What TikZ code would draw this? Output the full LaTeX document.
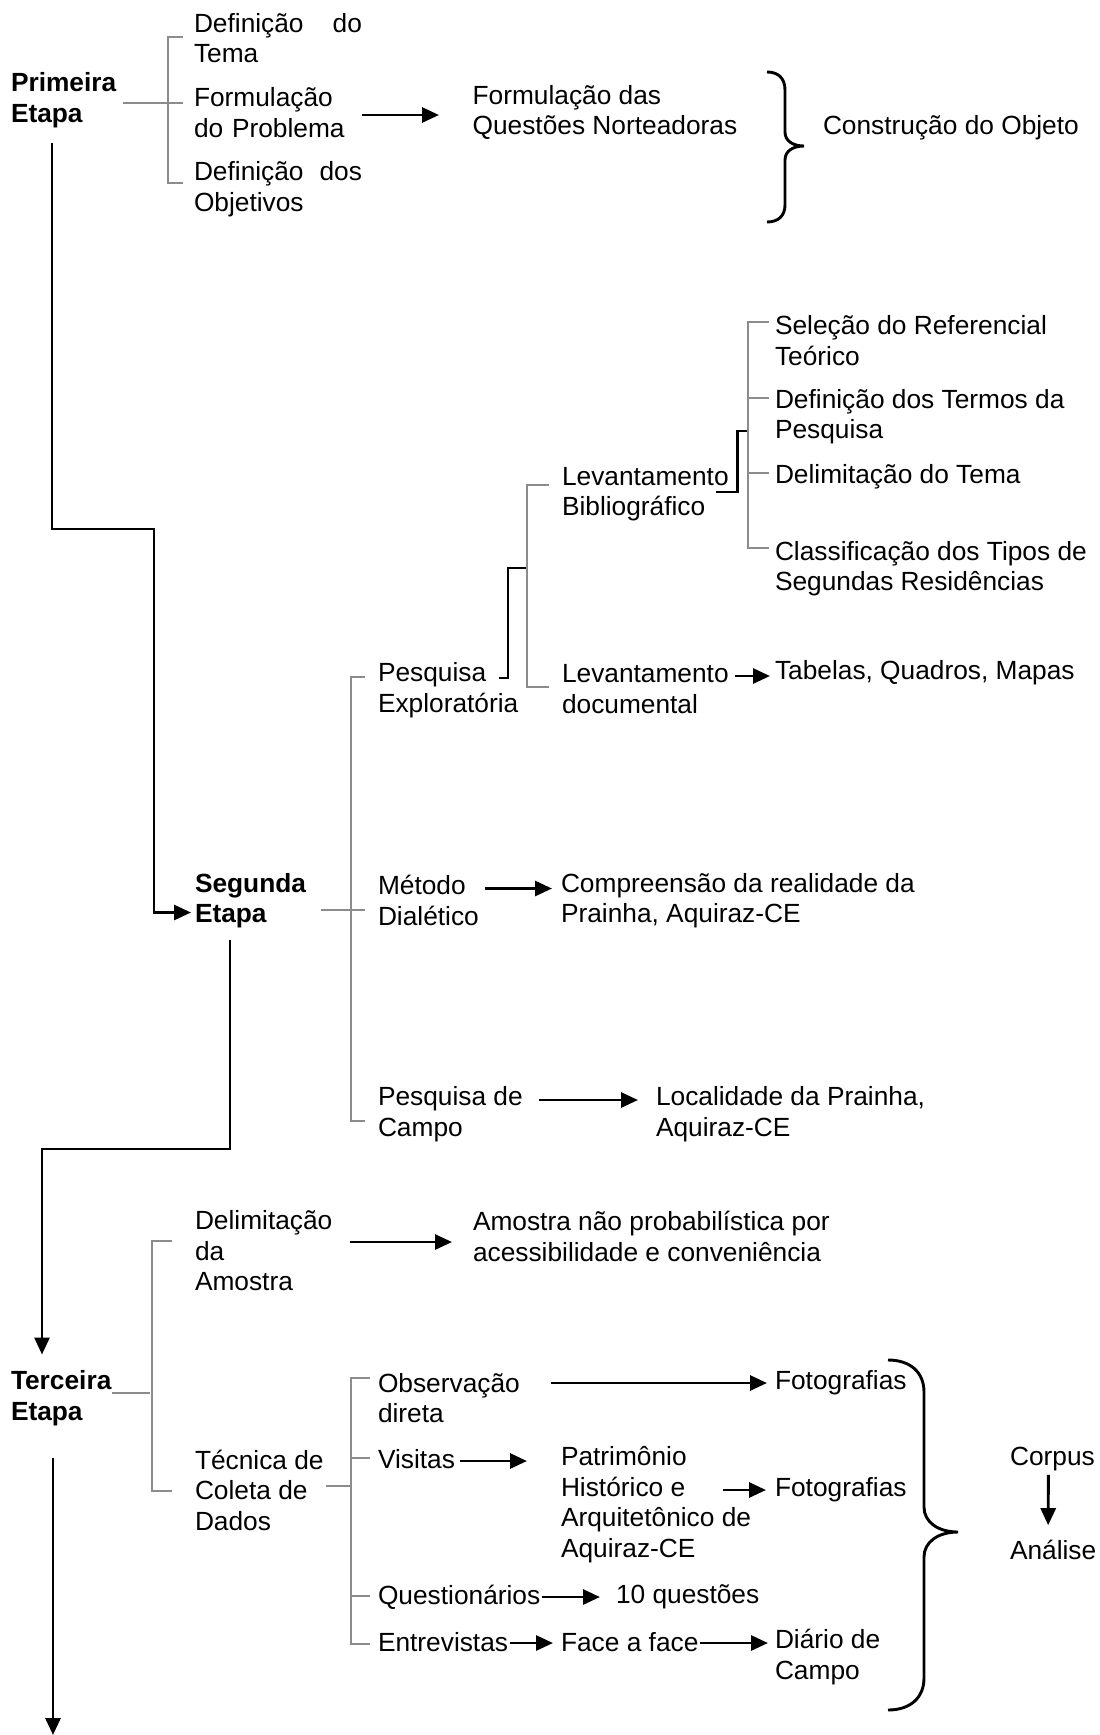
\documentclass[tikz,border=0pt]{standalone}
\usepackage{fontspec}
\setmainfont{Liberation Sans}
\usetikzlibrary{arrows.meta,calc}

\definecolor{linegray}{RGB}{140,140,140}

\begin{document}
\begin{tikzpicture}[x=0.5pt, y=-0.5pt,
  every node/.style={font=\fontsize{13.15pt}{15.25pt}\selectfont, inner sep=0pt, outer sep=0pt, anchor=west, align=left},
  stage/.style={font=\fontsize{13.15pt}{15.25pt}\selectfont\bfseries},
  gline/.style={draw=linegray, line width=1pt},
  bline/.style={draw=black, line width=1.45pt},
  arr/.style={bline, -{Triangle[length=8.5pt, width=7.5pt]}}]
  \useasboundingbox (0,0) rectangle (1099,1735);

  % Primeira Etapa
  \node[stage] (prim) at (11,100) {Primeira\\Etapa};
  \node[text width=84pt] (def1) at (194,38) {Definição \hfill do\\Tema};
  \node[text width=84pt] (form) at (194,112.5) {Formulação\\do Problema};
  \node[text width=84pt] (def2) at (194,189) {Definição \hfill dos\\Objetivos};
  \node (quest) at (472.6,112.5) {Formulação das\\Questões Norteadoras};
  \node (constr) at (823,128) {Construção do Objeto};

  \draw[gline] ($(prim.east)+(7,3)$) -- ($(form.west)+(-11,-9.5)$);
  \draw[gline] ($(def1.west)+(-11,-1)$) -- ++(-15,0) |- ($(def2.west)+(-11,-6)$);
  \draw[arr] ($(form.east)+(0,2.5)$) -- ($(quest.west)+(-33.6,2.5)$);

  % chave
  \draw[bline] (767,72) .. controls (778,72) and (785,78) .. (785,90) -- (785,132)
    .. controls (785,141) and (793,146) .. (804,146)
    .. controls (793,146) and (785,151) .. (785,160) -- (785,205)
    .. controls (785,216) and (778,222) .. (767,222);

  % Segunda Etapa
  \node[stage] (seg) at (195,900.5) {Segunda\\Etapa};
  \node (pesq) at (378,690) {Pesquisa\\Exploratória};
  \node (met) at (378,900.5) {Método\\Dialético};
  \node (camp) at (378,1114) {Pesquisa de\\Campo};
  \node (comp) at (561,900.5) {Compreensão da realidade da\\Prainha, Aquiraz-CE};
  \node (local) at (656,1114) {Localidade da Prainha,\\Aquiraz-CE};

  \coordinate (s1) at (52,143);
  \draw[arr] (s1) |- ++(102,386) |- ($(seg.west)+(-4,12)$);

  \draw[gline] ($(seg.east)+(15,9.5)$) -- ($(met.west)+(-13,9.5)$);
  \draw[gline] ($(pesq.west)+(-13,-13)$) -- ++(-14,0) |- ($(camp.west)+(-13,7)$);
  \draw[arr] ($(met.east)+(6,-12)$) -- ($(comp.west)+(-9,-12)$);
  \draw[arr] ($(camp.east)+(16,-14)$) -- ($(local.west)+(-18,-14)$);

  % Pesquisa Exploratoria
  \node (levbib) at (562,494) {Levantamento\\Bibliográfico};
  \node (levdoc) at (562,689) {Levantamento\\documental};
  \node (tab) at (775,673) {Tabelas, Quadros, Mapas};
  \node (sel) at (775,340.5) {Seleção do Referencial\\Teórico};
  \node (defterm) at (775,416.5) {Definição dos Termos da\\Pesquisa};
  \node (delim) at (775,477) {Delimitação do Tema};
  \node (classif) at (775,568.5) {Classificação dos Tipos de\\Segundas Residências};

  \draw[bline] ($(pesq.west)+(121,-12)$) -- ++(9,0) |- ($(levbib.west)+(-35,74)$);
  \draw[gline] ($(levbib.west)+(-13,-9)$) -- ++(-22,0) |- ($(levdoc.west)+(-13,-2)$);
  \draw[bline] ($(levbib.east)+(-13,-2)$) -- ++(22,0) |- ($(delim.west)+(-27,-46)$);
  \draw[gline] ($(sel.west)+(-6,-18.5)$) -- ++(-21,0) |- ($(classif.west)+(-6,-20.5)$);
  \draw[gline] ($(defterm.west)+(-6,-18.5)$) -- ++(-21,0);
  \draw[gline] ($(delim.west)+(-6,-4)$) -- ++(-21,0);
  \draw[arr] ($(levdoc.east)+(6,-13)$) -- ($(tab.west)+(-5,3)$);

  % Terceira Etapa
  \node[stage] (terc) at (11,1398) {Terceira\\Etapa};
  \node (delimam) at (195,1251) {Delimitação\\da\\Amostra};
  \node (tecn) at (195,1490) {Técnica de\\Coleta de\\Dados};
  \node (amostra) at (473,1236.5) {Amostra não probabilística por\\acessibilidade e conveniência};
  \node (obs) at (378,1398) {Observação\\direta};
  \node (vis) at (378,1459) {Visitas};
  \node (qst) at (378,1597) {Questionários};
  \node (entr) at (378,1642) {Entrevistas};
  \node (foto1) at (775,1383) {Fotografias};
  \node (patr) at (561,1504.5) {Patrimônio\\Histórico e\\Arquitetônico de\\Aquiraz-CE};
  \node (foto2) at (775,1490) {Fotografias};
  \node (dez) at (616,1597) {10 questões};
  \node (face) at (561,1642) {Face a face};
  \node (diario) at (775,1657) {Diário de\\Campo};
  \node (corpus) at (1010,1459) {Corpus};
  \node (analise) at (1010,1550) {Análise};

  \coordinate (s2) at (230,940);
  \draw[arr] (s2) |- ++(-188,209) -- ($(terc.north west)+(31,-16)$);

  \draw[gline] ($(terc.east)+(1,-5)$) -- ++(38,0);
  \draw[gline] ($(delimam.west)+(-23,-10)$) -- ++(-20,0) |- ($(tecn.west)+(-23,1)$);
  \draw[arr] ($(delimam.east)+(18,-9)$) -- ($(amostra.west)+(-21,5.5)$);
  \draw[gline] ($(tecn.east)+(2,-4)$) -- ++(25,0);
  \draw[gline] ($(obs.west)+(-8,-20)$) -- ++(-19,0) |- ($(entr.west)+(-8,2)$);
  \draw[gline] ($(vis.west)+(-8,-1)$) -- ++(-19,0);
  \draw[gline] ($(qst.west)+(-8,-1)$) -- ++(-19,0);

  \draw[arr] ($(obs.east)+(31,-15)$) -- ($(foto1.west)+(-8,0)$);
  \draw[arr] ($(vis.east)+(5,2)$) -- ($(patr.west)+(-34,-43.5)$);
  \draw[arr] ($(patr.west)+(162,-14.5)$) -- ($(foto2.west)+(-9,0)$);
  \draw[arr] ($(qst.east)+(2,0)$) -- ($(dez.west)+(-16,0)$);
  \draw[arr] ($(entr.east)+(2,1)$) -- ($(face.west)+(-8,1)$);
  \draw[arr] ($(face.east)+(2,1)$) -- ($(diario.west)+(-7,-14)$);
  \draw[arr] ($(corpus.south)+(-4,4)$) -- ($(analise.north)+(-5,-15)$);

  % chave grande
  \draw[bline] (888,1360) .. controls (910,1360) and (924,1372) .. (924,1392) -- (924,1507)
    .. controls (924,1522) and (938,1532) .. (958,1532)
    .. controls (938,1532) and (924,1542) .. (924,1557) -- (924,1678)
    .. controls (924,1698) and (910,1710) .. (888,1710);

  \coordinate (s3) at (53,1458);
  \draw[arr] (s3) -- ++(0,277);
\end{tikzpicture}
\end{document}
